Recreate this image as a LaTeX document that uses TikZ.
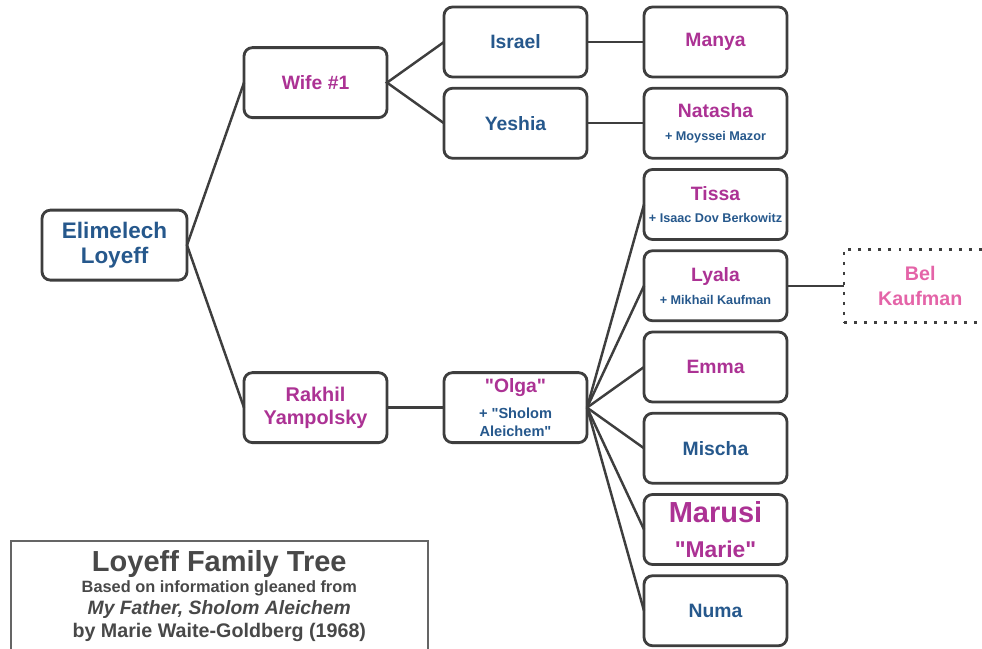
\documentclass[tikz,border=0pt]{standalone}
\usepackage{fontspec}
\setmainfont{Liberation Sans}[Ligatures=TeXOff]
\usepackage{xcolor}
\usetikzlibrary{positioning,calc}

\definecolor{kinblue}{RGB}{38,88,140}
\definecolor{kinmagenta}{RGB}{172,50,148}
\definecolor{kinpink}{RGB}{228,100,168}
\definecolor{kinline}{RGB}{62,62,62}
\newcommand{\spousefont}{\bfseries\fontsize{7.2}{8}\selectfont\color{kinblue}}

\tikzset{
  person/.style={draw=kinline, line width=1.6pt, rounded corners=0.17cm, fill=white,
    minimum width=2.86cm, minimum height=1.4cm, inner sep=1pt, outer sep=0pt, align=center,
    text=kinmagenta, font=\bfseries\fontsize{11}{13}\selectfont},
  male/.style={person, text=kinblue},
  distant/.style={draw=kinline, line width=1.6pt, dash pattern=on 1.7pt off 4pt,
    minimum width=3.05cm, minimum height=1.46cm, outer sep=0pt, align=center, text=kinpink,
    font=\bfseries\fontsize{11.2}{14}\selectfont},
  link/.style={draw=kinline, line width=1.4pt},
}

\begin{document}
\begin{tikzpicture}[node distance=0.225cm and 1.14cm]
  \useasboundingbox (0,0) rectangle (19.64,-12.96);

  % grandchildren
  \node[person] (manya) at (14.31,-0.84) {Manya};
  \node[person, below=of manya] (natasha) {Natasha\\[0pt]{\spousefont + Moyssei Mazor}};
  \node[person, below=of natasha] (tissa) {Tissa\\[0pt]{\spousefont + Isaac Dov Berkowitz}};
  \node[person, below=of tissa] (lyala) {Lyala\\[0pt]{\spousefont + Mikhail Kaufman}};
  \node[person, below=of lyala] (emma) {Emma};
  \node[male, below=of emma] (mischa) {Mischa};
  \node[person, below=of mischa] (marusi) {{\fontsize{16.5}{17}\selectfont Marusi}\\[7pt]{\fontsize{13}{13}\selectfont "Marie"}};
  \node[male, below=of marusi] (numa) {Numa};
  \node[distant, right=of lyala] (bel) {Bel\\Kaufman};

  % children
  \node[male, left=of manya] (israel) {Israel};
  \node[male, left=of natasha] (yeshia) {Yeshia};
  \coordinate (omid) at ($(emma.west)!0.5!(mischa.west)$);
  \node[person, left=of omid] (olga) {"Olga"\\[2pt]{\fontsize{8.3}{9}\selectfont\color{kinblue}+ "Sholom}\\[-3pt]{\fontsize{8.3}{9}\selectfont\color{kinblue}Aleichem"}};

  % wives
  \coordinate (wmid) at ($(israel.west)!0.5!(yeshia.west)$);
  \node[person, left=of wmid] (wife) {Wife \#1};
  \node[person, left=of olga, font=\bfseries\fontsize{11.3}{13}\selectfont] (rakhil) {Rakhil\\Yampolsky};

  % root
  \coordinate (emid) at ($(wife.west)!0.5!(rakhil.west)$);
  \node[male, left=of emid, minimum width=2.9cm, font=\bfseries\fontsize{12.8}{14}\selectfont] (elimelech) {Elimelech\\Loyeff};

  \draw[link] (wife.west) -- (elimelech.east) -- (rakhil.west);
  \draw[link] (israel.west) -- (wife.east) -- (yeshia.west);
  \draw[link] (israel) -- (manya);
  \draw[link] (yeshia) -- (natasha);
  \draw[link] (rakhil) -- (olga);
  \foreach \kid in {tissa,lyala,emma,mischa,marusi,numa}
    \draw[link] (olga.east) -- (\kid.west);
  \draw[link] (lyala) -- (bel);

  % caption
  \node[draw=kinline!80, line width=0.9pt, anchor=north west, minimum width=8.34cm,
    minimum height=2.2cm, align=center, text=kinline!95, inner sep=2pt] (caption) at (0.2,-10.8)
    {{\bfseries\fontsize{16.5}{17}\selectfont Loyeff Family Tree}\\
     {\bfseries\fontsize{9.3}{12.5}\selectfont Based on information gleaned from}\\[0.8pt]
     {\bfseries\itshape\fontsize{11}{12.5}\selectfont My Father, Sholom Aleichem}\\[1pt]
     {\bfseries\fontsize{11.2}{12.5}\selectfont by Marie Waite-Goldberg (1968)}};
\end{tikzpicture}
\end{document}
